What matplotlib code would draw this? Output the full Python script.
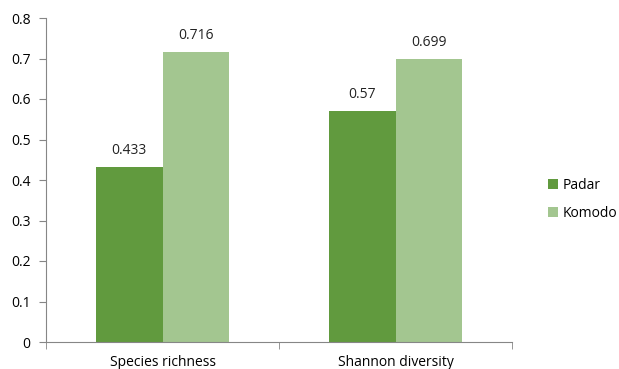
import matplotlib
matplotlib.use("Agg")
import matplotlib.pyplot as plt
import numpy as np

plt.rcParams['font.family'] = ['Open Sans', 'DejaVu Sans']

categories = ["Species richness", "Shannon diversity"]
padar = [0.433, 0.57]
komodo = [0.716, 0.699]
padar_labels = ["0.433", "0.57"]
komodo_labels = ["0.716", "0.699"]

dark = "#619A3E"
light = "#A3C690"
grey = "#868686"

fig = plt.figure(figsize=(6.19, 3.69), dpi=100)
ax = fig.add_axes([46/619, 27/369, 466/619, 324/369])

x = np.arange(len(categories))
w = 0.2875
b1 = ax.bar(x - w/2, padar, w, color=dark, label="Padar")
b2 = ax.bar(x + w/2, komodo, w, color=light, label="Komodo")

for bars, labs in ((b1, padar_labels), (b2, komodo_labels)):
    for r, t in zip(bars, labs):
        ax.text(r.get_x() + r.get_width()/2, r.get_height() + 0.022, t,
                ha="center", va="bottom", fontsize=10, color="#222222")

ax.set_xlim(-0.5, 1.5)
ax.set_ylim(0, 0.8)
ax.set_yticks(np.arange(0, 0.81, 0.1))
ax.set_yticklabels(["0"] + ["%.1f" % v for v in np.arange(0.1, 0.81, 0.1)])
ax.set_xticks(x)
ax.set_xticklabels(categories)
ax.set_xticks([-0.5, 0.5, 1.5], minor=True)
ax.tick_params(axis="x", which="major", length=0, pad=9, labelsize=10)
ax.tick_params(axis="x", which="minor", length=5, color=grey, direction="out")
ax.tick_params(axis="y", length=5, color=grey, labelsize=10, pad=6)

for s in ("top", "right"):
    ax.spines[s].set_visible(False)
for s in ("left", "bottom"):
    ax.spines[s].set_color(grey)

ax.legend(loc="center left", bbox_to_anchor=(1.05, 0.44), frameon=False,
          fontsize=10, handlelength=0.7, handleheight=0.7, labelspacing=0.9,
          handletextpad=0.4)

fig.savefig("out.png", dpi=100)
